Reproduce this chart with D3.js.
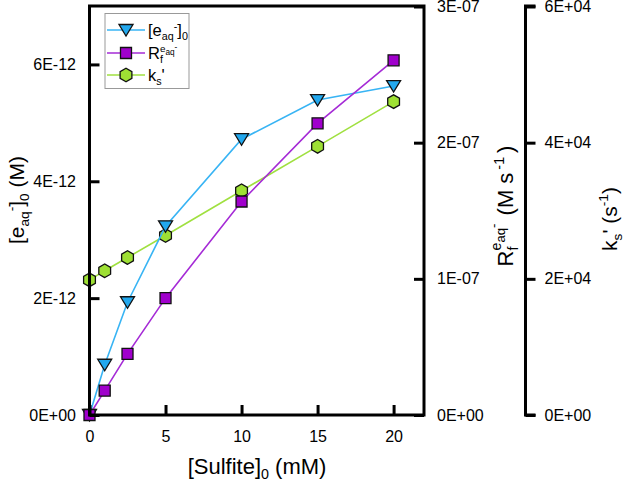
<!DOCTYPE html>
<html><head><meta charset="utf-8">
<script src="https://cdn.jsdelivr.net/npm/d3@7"></script>
<style>
html,body{margin:0;padding:0;background:#fff;}
text{font-family:"Liberation Sans",Arial,sans-serif;fill:#000;}
</style></head>
<body><svg id="c" width="625" height="481"></svg>
<script>
const sulfite = [0, 1, 2.5, 5, 10, 15, 20];
const eaq = [0, 0.86e-12, 1.93e-12, 3.23e-12, 4.72e-12, 5.39e-12, 5.63e-12];
const Rf = [0, 0.179e-7, 0.449e-7, 0.858e-7, 1.568e-7, 2.142e-7, 2.605e-7];
const ks = [1.985e4, 2.118e4, 2.313e4, 2.637e4, 3.294e4, 3.946e4, 4.603e4];
const xTicks = [0, 5, 10, 15, 20];
const leftTicks = [0, 2e-12, 4e-12, 6e-12];
const leftTickLabels = ["0E+00", "2E-12", "4E-12", "6E-12"];
const rightTicks = [0, 1e-7, 2e-7, 3e-7];
const rightTickLabels = ["0E+00", "1E-07", "2E-07", "3E-07"];
const kTicks = [0, 2e4, 4e4, 6e4];
const kTickLabels = ["0E+00", "2E+04", "4E+04", "6E+04"];

const svg = d3.select("#c");
const L = 89.5, R = 424, T = 6, B = 415, K = 525.5;
const x = d3.scaleLinear().domain([0, 22]).range([L, R]);
const yL = d3.scaleLinear().domain([0, 7e-12]).range([B, T]);
const yR = d3.scaleLinear().domain([0, 3e-7]).range([B, T + 0.5]);
const yK = d3.scaleLinear().domain([0, 6e4]).range([B, T + 0.5]);

const cBlue = "#22a8ee", lBlue = "#38b4f4";
const cPurp = "#a000cc", lPurp = "#a52bd6";
const cGreen = "#9ee034", lGreen = "#a0e040";

const tri = "M-7,-5.5L7,-5.5L0,6Z";
const sq = "M-5.5,-5.5H5.5V5.5H-5.5Z";
const hex = (() => { const r = 6.8; let p = []; for (let i = 0; i < 6; i++) { const a = Math.PI / 2 + i * Math.PI / 3; p.push([r * Math.cos(a), r * Math.sin(a)]); } return "M" + p.map(d => d.join(",")).join("L") + "Z"; })();

function series(vals, y, line, fill, shape) {
  const g = svg.append("g");
  g.append("path").datum(sulfite.map((s, i) => [x(s), y(vals[i])]))
    .attr("d", d3.line()).attr("fill", "none").attr("stroke", line).attr("stroke-width", 1.6);
  g.selectAll("path.m").data(sulfite).join("path").attr("class", "m")
    .attr("d", shape).attr("transform", (s, i) => `translate(${x(s)},${y(vals[i])})`)
    .attr("fill", fill).attr("stroke", "#111").attr("stroke-width", 1.3);
}
series(ks, yK, lGreen, cGreen, hex);
series(eaq, yL, lBlue, cBlue, tri);
series(Rf, yR, lPurp, cPurp, sq);

// frame
svg.append("rect").attr("x", L).attr("y", T).attr("width", R - L).attr("height", B - T)
  .attr("fill", "none").attr("stroke", "#000").attr("stroke-width", 3);

const gx = svg.append("g").attr("transform", `translate(0,${B})`)
  .call(d3.axisBottom(x).tickValues(xTicks).tickSizeInner(-10).tickSizeOuter(0).tickPadding(16));
const gl = svg.append("g").attr("transform", `translate(${L},0)`)
  .call(d3.axisLeft(yL).tickValues(leftTicks).tickFormat((d, i) => leftTickLabels[i]).tickSizeInner(-10).tickSizeOuter(0).tickPadding(13.5));
const gr = svg.append("g").attr("transform", `translate(${R},0)`)
  .call(d3.axisRight(yR).tickValues(rightTicks).tickFormat((d, i) => rightTickLabels[i]).tickSizeInner(-10).tickSizeOuter(0).tickPadding(13));
const gk = svg.append("g").attr("transform", `translate(${K},0)`)
  .call(d3.axisRight(yK).tickValues(kTicks).tickFormat((d, i) => kTickLabels[i]).tickSizeInner(10).tickSizeOuter(0).tickPadding(9));
[gx, gl, gr, gk].forEach(g => {
  g.select(".domain").attr("stroke", "#000").attr("stroke-width", 3);
  g.selectAll(".tick line").attr("stroke", "#000").attr("stroke-width", 3);
  g.selectAll(".tick text").style("font-size", "16px").attr("fill", "#222").style("font-family", "'Liberation Sans',Arial,sans-serif");
});
gx.select(".domain").remove(); gl.select(".domain").remove(); gr.select(".domain").remove();
gk.select(".domain").attr("d", `M0,${T - 0.5}V${B + 0.5}`);
gk.append("path").attr("d", `M-1.5,${T}H10M-1.5,${B}H10`).attr("stroke", "#000").attr("stroke-width", 3);

function rich(t, parts, size) {
  parts.forEach(p => {
    const ts = t.append("tspan").text(p.t);
    if (p.s) ts.style("font-size", p.s * size + "px");
    if (p.dy) ts.attr("dy", p.dy);
    if (p.dx) ts.attr("dx", p.dx);
  });
}

const xt = svg.append("text").attr("x", 257).attr("y", 474).attr("text-anchor", "middle").style("font-size", "22px");
rich(xt, [{t: "[Sulfite]"}, {t: "0", s: 0.65, dy: 5}, {t: " (mM)", dy: -5}], 22);

const lt = svg.append("text").attr("transform", "translate(24,200) rotate(-90)").attr("text-anchor", "middle").style("font-size", "21px");
rich(lt, [{t: "[e"}, {t: "aq", s: 0.65, dy: 5}, {t: "-", s: 0.65, dy: -13}, {t: "]", dy: 8}, {t: "0", s: 0.65, dy: 5}, {t: " (M)", dy: -5}], 21);

const rt = svg.append("text").attr("transform", "translate(513,206) rotate(-90)").attr("text-anchor", "middle").style("font-size", "22px");
rich(rt, [{t: "R"}, {t: "f", s: 0.65, dy: 5}, {t: "e", s: 0.65, dy: -17, dx: -4}, {t: "aq", s: 0.6, dy: 4}, {t: "-", s: 0.6, dy: -7}, {t: " (M s", dy: 15, dx: 2}, {t: "-1", s: 0.65, dy: -9, dx: 3}, {t: ")", dy: 9, dx: 4}], 22);

const kt = svg.append("text").attr("transform", "translate(617,219) rotate(-90)").attr("text-anchor", "middle").style("font-size", "21px");
rich(kt, [{t: "k"}, {t: "s", s: 0.65, dy: 5}, {t: "'", dy: -5}, {t: " (s"}, {t: "-1", s: 0.65, dy: -9}, {t: ")", dy: 9}], 21);

const lg = svg.append("g");
lg.append("rect").attr("x", 105).attr("y", 13.5).attr("width", 84).attr("height", 75)
  .attr("fill", "#fff").attr("stroke", "#999").attr("stroke-width", 1);
const legendItems = [
  {c: lBlue, f: cBlue, s: tri, y: 30, parts: [{t: "[e"}, {t: "aq", s: 0.65, dy: 4}, {t: "-", s: 0.65, dy: -10}, {t: "]", dy: 6}, {t: "0", s: 0.65, dy: 4}]},
  {c: lPurp, f: cPurp, s: sq, y: 53, parts: [{t: "R"}, {t: "f", s: 0.65, dy: 4}, {t: "e", s: 0.6, dy: -11, dx: -3}, {t: "aq", s: 0.5, dy: 3}, {t: "-", s: 0.5, dy: -5}]},
  {c: lGreen, f: cGreen, s: hex, y: 75, parts: [{t: "k"}, {t: "s", s: 0.65, dy: 4}, {t: "'", dy: -4}]}
];
legendItems.forEach(it => {
  lg.append("line").attr("x1", 107).attr("x2", 145).attr("y1", it.y).attr("y2", it.y).attr("stroke", it.c).attr("stroke-width", 1.6);
  lg.append("path").attr("d", it.s).attr("transform", `translate(126,${it.y})`).attr("fill", it.f).attr("stroke", "#111").attr("stroke-width", 1.3);
  const t = lg.append("text").attr("x", 148).attr("y", it.y + 6).style("font-size", "16.5px");
  rich(t, it.parts, 16.5);
});
</script></body></html>
